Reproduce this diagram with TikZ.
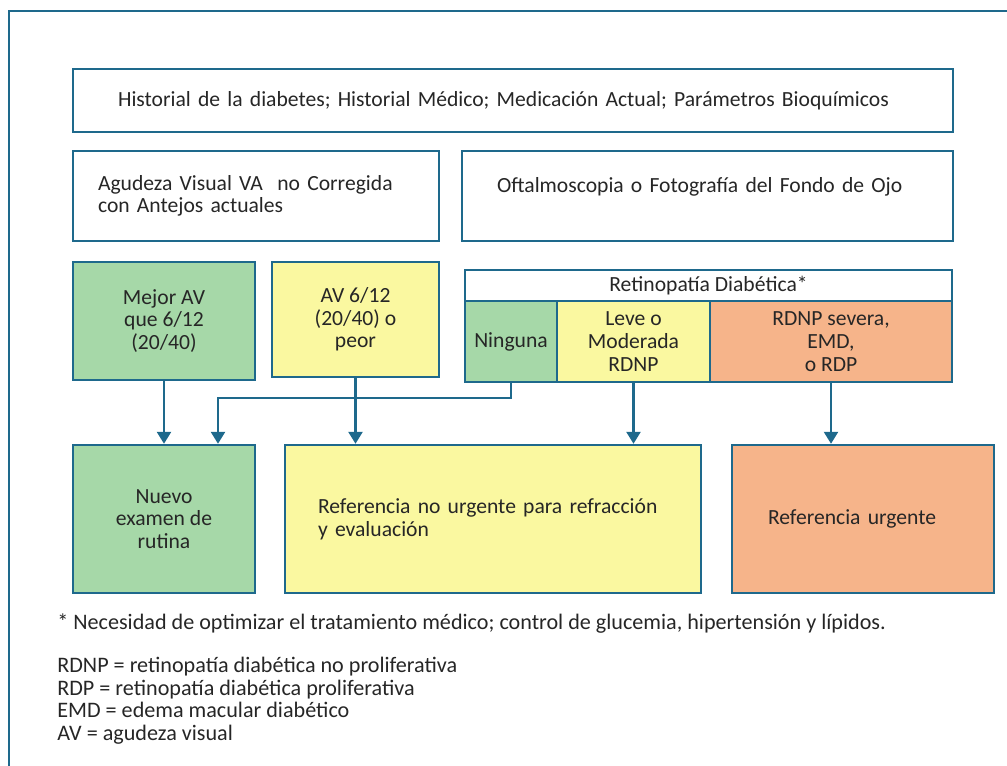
\documentclass[tikz,border=0pt]{standalone}
\usepackage{fontspec}
\setmainfont{Carlito}
\usetikzlibrary{arrows.meta, positioning, calc}
\definecolor{framecolor}{RGB}{30,105,140}
\definecolor{goodcolor}{RGB}{166,216,168}
\definecolor{midcolor}{RGB}{250,248,160}
\definecolor{urgcolor}{RGB}{246,180,138}
\definecolor{textcolor}{RGB}{38,38,38}

\begin{document}
\begin{tikzpicture}[
    x=0.02cm, y=-0.02cm,
    panel/.style={draw=framecolor, line width=1.4pt, inner sep=0pt, text=textcolor, font=\fontsize{12.3}{12.9}\selectfont, align=center},
    good/.style={panel, fill=goodcolor},
    mid/.style={panel, fill=midcolor},
    urgent/.style={panel, fill=urgcolor},
    note/.style={inner sep=0pt, text=textcolor, font=\fontsize{12.6}{12.8}\selectfont, align=left},
    flow/.style={-{Triangle[length=2.4mm, width=2.8mm]}, draw=framecolor, line width=1.4pt}
]
    \clip (0,0) rectangle (1007,765);
    \draw[framecolor, line width=1.4pt] (9,11) rectangle (1040,800);

    % Data collection
    \node[panel, align=left, text width=15.8cm, inner xsep=0.9cm, minimum height=1.26cm] (hist) at (513,100.5) {Historial de la diabetes; Historial Médico; Medicación Actual; Parámetros Bioquímicos};
    \node[panel, align=left, text width=6.32cm, inner xsep=0.5cm, minimum height=1.8cm] (agud) at (256,196) {Agudeza Visual VA~ no Corregida\\con Antejos actuales};
    \node[panel, align=left, text width=8.42cm, inner xsep=0.7cm, minimum height=1.8cm] (oft) at (707.5,196) {Oftalmoscopia o Fotografía del Fondo de Ojo\\\mbox{}};

    % Visual acuity results
    \node[good, minimum width=3.64cm, minimum height=2.36cm] (mejor) at (164,321) {Mejor AV\\que 6/12\\(20/40)};
    \node[mid, minimum width=3.34cm, minimum height=2.3cm] (peor) at (355.5,319.5) {AV 6/12\\(20/40) o\\peor};

    % Retinopathy grading
    \node[panel, minimum width=9.74cm, minimum height=0.62cm] (retino) at (708.5,285.5) {Retinopatía Diabética*};
    \node[good, minimum width=1.84cm, minimum height=1.62cm] (ninguna) at (511,341.5) {Ninguna};
    \node[mid, minimum width=3.06cm, minimum height=1.62cm] (leve) at (633.5,341.5) {Leve o\\Moderada\\RDNP};
    \node[urgent, minimum width=4.84cm, minimum height=1.62cm] (severa) at (831,341.5) {RDNP severa,\\EMD,\\o RDP};

    % Outcomes
    \node[good, minimum width=3.64cm, minimum height=2.96cm] (nuevo) at (164,519) {Nuevo\\examen de\\rutina};
    \node[mid, align=left, text width=7.0cm, inner xsep=0.66cm, minimum height=2.96cm] (noUrg) at (493,519) {Referencia no urgente para refracción\\y evaluación};
    \node[urgent, align=left, text width=3.8cm, inner xsep=0.72cm, minimum height=2.96cm] (urg) at (863,519) {Referencia urgente};

    % Arrows
    \draw[flow] (mejor) -- (nuevo);
    \draw[flow] (ninguna.south) -- ++(0,15) -| ($(nuevo.north)+(54,0)$);
    \draw[flow] (peor) -- (peor |- noUrg.north);
    \draw[flow] (leve) -- (leve |- noUrg.north);
    \draw[flow] (severa) -- (severa |- urg.north);

    % Notes
    \node[note, anchor=west] (ast) at (57,624) {* Necesidad de optimizar el tratamiento médico; control de glucemia, hipertensión y lípidos.};
    \node[note, anchor=west] (abbr) at (57,700.5) {RDNP = retinopatía diabética no proliferativa\\RDP = retinopatía diabética proliferativa\\EMD = edema macular diabético\\AV = agudeza visual};
\end{tikzpicture}
\end{document}
